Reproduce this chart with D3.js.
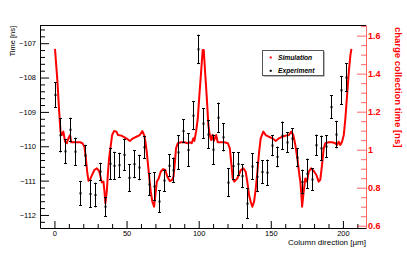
<!DOCTYPE html>
<html><head><meta charset="utf-8">
<script src="https://cdn.jsdelivr.net/npm/d3@7"></script>
<style>body{margin:0;background:#fff;} svg{display:block;}</style>
</head><body>
<svg id="c" width="407" height="254"></svg>
<script>
// Experiment: column position [µm], time [ns], error [ns]
const expX = [0.7,4.2,7.6,10.9,14.3,17.8,21.2,24.7,28.0,31.5,34.9,38.4,41.6,45.0,48.5,51.8,55.2,58.7,62.2,65.6,69.1,72.4,75.8,79.3,82.5,85.9,89.4,92.9,96.3,99.8,103.3,106.5,110.0,113.4,116.7,120.2,123.6,127.1,130.3,133.7,137.2,140.7,144.1,147.6,150.9,154.3,157.8,161.2,164.7,168.1,171.6,175.1,178.3,181.5,184.9,188.4,191.9,195.3,198.8,202.4];
const expY = [-108.51,-109.68,-110.15,-109.52,-110.16,-111.37,-110.27,-111.39,-111.42,-110.74,-111.76,-110.51,-110.57,-110.55,-110.25,-110.92,-110.52,-110.62,-110.03,-111.11,-111.17,-111.61,-111.00,-110.57,-110.70,-110.18,-109.56,-110.11,-109.11,-107.18,-109.34,-109.66,-110.10,-109.17,-109.74,-111.06,-110.58,-110.52,-110.87,-111.67,-110.59,-110.89,-110.75,-110.77,-109.98,-110.31,-109.69,-109.89,-109.78,-110.33,-111.04,-110.80,-110.97,-109.97,-110.06,-110.01,-108.86,-109.66,-108.37,-108.00];
const expErr = [0.37,0.50,0.36,0.35,0.41,0.36,0.31,0.41,0.36,0.26,0.29,0.47,0.41,0.36,0.47,0.40,0.41,0.37,0.33,0.33,0.41,0.33,0.32,0.33,0.37,0.50,0.35,0.49,0.42,0.43,0.44,0.41,0.44,0.44,0.41,0.42,0.40,0.35,0.35,0.45,0.39,0.44,0.35,0.38,0.31,0.30,0.41,0.30,0.30,0.28,0.36,0.44,0.33,0.31,0.37,0.33,0.34,0.40,0.42,0.42];

// Simulation: column position [µm], charge collection time [ns]
const simX = [0.4,2.1,3.3,4.2,5.1,6.2,7.4,8.6,9.7,10.9,11.6,13.2,15.5,17.8,19.4,20.8,21.8,22.7,23.6,24.9,26.3,27.7,29.4,31.0,32.2,32.8,34.0,34.7,35.3,36.3,37.0,37.9,38.8,40.0,41.4,43.0,44.1,46.4,49.9,52.3,54.5,56.8,59.2,61.0,62.2,63.1,64.0,64.9,65.8,66.8,67.9,69.1,70.0,71.0,72.3,73.7,75.3,76.9,78.3,80.0,81.6,82.6,83.6,84.3,85.5,87.8,90.1,92.4,94.0,95.2,96.3,97.0,98.2,99.4,100.5,101.7,102.8,103.5,104.6,105.8,106.7,107.7,108.6,109.5,110.5,112.1,113.2,115.5,117.8,120.2,121.6,122.5,123.6,124.7,126.8,129.2,131.0,132.6,133.7,134.9,136.1,137.2,138.4,139.6,140.7,141.9,143.0,144.8,146.5,148.8,151.1,153.4,155.7,158.0,160.4,162.6,164.2,165.6,167.0,168.4,169.8,170.5,171.2,171.7,172.8,173.9,175.1,176.3,177.9,179.8,181.6,183.2,184.3,185.5,186.7,187.8,190.2,192.5,194.7,195.9,197.1,198.2,199.4,200.6,201.7,202.9,204.1,205.2,205.9];
const simY = [1.530,1.358,1.200,1.095,1.077,1.095,1.042,1.034,1.060,1.077,1.039,1.039,1.039,1.039,1.034,1.016,0.955,0.884,0.837,0.846,0.871,0.893,0.902,0.888,0.849,0.828,0.832,0.779,0.718,0.779,0.867,0.955,1.007,1.077,1.098,1.095,1.077,1.074,1.060,1.046,1.060,1.068,1.077,1.098,1.077,1.042,0.989,0.919,0.849,0.779,0.726,0.700,0.762,0.832,0.849,0.884,0.898,0.893,0.858,0.835,0.841,0.860,0.940,1.007,1.034,1.039,1.039,1.034,1.039,1.034,1.060,1.046,1.095,1.165,1.288,1.411,1.525,1.525,1.393,1.253,1.130,1.077,1.051,1.077,1.046,1.077,1.039,1.039,1.039,1.034,1.007,0.937,0.849,0.832,0.849,0.893,0.902,0.884,0.832,0.762,0.726,0.700,0.726,0.797,0.884,0.989,1.060,1.095,1.077,1.068,1.060,1.046,1.060,1.068,1.074,1.077,1.095,1.077,1.025,0.955,0.867,0.832,0.762,0.700,0.779,0.849,0.832,0.884,0.902,0.888,0.867,0.832,0.841,0.919,1.007,1.034,1.039,1.039,1.034,1.025,1.042,1.025,1.042,1.077,1.165,1.288,1.411,1.498,1.530];

const xTicks = [0,50,100,150,200];
const yLeftTicks = [-112,-111,-110,-109,-108,-107];
const yRightTicks = [0.6,0.8,1,1.2,1.4,1.6];
const legendLabels = ["Simulation","Experiment"];
const xTitle = "Column direction [µm]";
const yLeftTitle = "Time [ns]";
const yRightTitle = "charge collection time [ns]";

const L = 40, R = 366, T = 25, B = 228;
const FONT = "'Liberation Sans', Arial, Helvetica, sans-serif";
const svg = d3.select("#c");

const x = d3.scaleLinear([-10, 216], [L, R]);
const yL = d3.scaleLinear([-112.38, -106.47], [B, T]);
const yR = d3.scaleLinear([0.588, 1.656], [B, T]);

function range(a, b, s) { const o = []; for (let v = a; v <= b + 1e-9; v += s) o.push(+v.toFixed(4)); return o; }

// bottom axis
const gx = svg.append("g").attr("transform", `translate(0,${B})`);
gx.call(d3.axisBottom(x).tickValues(xTicks).tickSizeInner(-7).tickSizeOuter(0).tickPadding(3).tickFormat(d3.format("d")));
const gxm = svg.append("g").attr("transform", `translate(0,${B})`);
gxm.call(d3.axisBottom(x).tickValues(range(-10, 210, 10).filter(v => v % 50 !== 0)).tickSizeInner(-4).tickSizeOuter(0).tickFormat(""));
gxm.select(".domain").remove();

// left axis
const gy = svg.append("g").attr("transform", `translate(${L},0)`);
gy.call(d3.axisLeft(yL).tickValues(yLeftTicks).tickSizeInner(-9).tickSizeOuter(0).tickPadding(4).tickFormat(d3.format("d")));
const gym = svg.append("g").attr("transform", `translate(${L},0)`);
gym.call(d3.axisLeft(yL).tickValues(range(-112.2, -106.6, 0.2).filter(v => Math.abs(v - Math.round(v)) > 0.01)).tickSizeInner(-5).tickSizeOuter(0).tickFormat(""));
gym.select(".domain").remove();

// top frame line
svg.append("line").attr("x1", L).attr("x2", R).attr("y1", T + 0.5).attr("y2", T + 0.5).attr("stroke", "#000");

[gx, gy].forEach(g => {
  g.selectAll("text").attr("font-family", FONT).attr("font-size", 7.5).attr("fill", "#000");
  g.selectAll("line,path").attr("stroke", "#000");
});
[gxm, gym].forEach(g => g.selectAll("line").attr("stroke", "#000"));

// right axis (red)
const gr = svg.append("g").attr("transform", `translate(${R},0)`);
gr.call(d3.axisRight(yR).tickValues(yRightTicks).tickSizeInner(-9).tickSizeOuter(0).tickPadding(2).tickFormat(d => d === 1 ? "1" : d.toFixed(1)));
const grm = svg.append("g").attr("transform", `translate(${R},0)`);
grm.call(d3.axisRight(yR).tickValues(range(0.6, 1.65, 0.05).filter(v => Math.abs(v * 5 - Math.round(v * 5)) > 0.01)).tickSizeInner(-5).tickSizeOuter(0).tickFormat(""));
grm.select(".domain").remove();
[gr, grm].forEach(g => g.selectAll("line,path").attr("stroke", "#f00").attr("stroke-opacity", 0.6));
gr.selectAll("text").attr("font-family", FONT).attr("font-size", 9).attr("font-weight", "bold").attr("fill", "#f00");

// simulation curve
svg.append("path")
  .datum(simX.map((v, i) => [v, simY[i]]))
  .attr("fill", "none").attr("stroke", "#f00").attr("stroke-width", 2).attr("stroke-linejoin", "round")
  .attr("d", d3.line().x(d => x(d[0])).y(d => yR(d[1])));

// experiment points with error bars
const eg = svg.append("g").attr("stroke", "#000").attr("stroke-width", 1);
expX.forEach((v, i) => {
  const cx = Math.round(x(v)) + 0.5;
  const y1 = yL(expY[i] + expErr[i]), y2 = yL(expY[i] - expErr[i]);
  eg.append("line").attr("x1", cx).attr("x2", cx).attr("y1", y1).attr("y2", y2);
  eg.append("line").attr("x1", cx - 1.5).attr("x2", cx + 1.5).attr("y1", Math.round(y1) + 0.5).attr("y2", Math.round(y1) + 0.5);
  eg.append("line").attr("x1", cx - 1.5).attr("x2", cx + 1.5).attr("y1", Math.round(y2) - 0.5).attr("y2", Math.round(y2) - 0.5);
  svg.append("rect").attr("x", cx - 1).attr("y", yL(expY[i]) - 1).attr("width", 2).attr("height", 2).attr("fill", "#000");
});

// legend
const lg = svg.append("g");
lg.append("rect").attr("x", 263.5).attr("y", 51.5).attr("width", 61).attr("height", 25).attr("fill", "#777");
lg.append("rect").attr("x", 262.5).attr("y", 50.5).attr("width", 61).attr("height", 25).attr("fill", "#fff").attr("stroke", "#555");
const legColors = ["#f00", "#000"];
legendLabels.forEach((t, i) => {
  const yy = 57.5 + i * 13.3;
  lg.append("rect").attr("x", 269.7).attr("y", yy - 1).attr("width", 2).attr("height", 2).attr("fill", legColors[i]);
  lg.append("text").attr("x", 278).attr("y", yy + 2.4).text(t)
    .attr("font-family", FONT).attr("font-size", 6.7).attr("font-weight", "bold").attr("font-style", "italic").attr("fill", "#000");
});

// titles
svg.append("text").attr("x", R).attr("y", 244.5).attr("text-anchor", "end").text(xTitle)
  .attr("font-family", FONT).attr("font-size", 8).attr("fill", "#000");
svg.append("text").attr("transform", `translate(15,26) rotate(-90)`).attr("text-anchor", "end").text(yLeftTitle)
  .attr("font-family", FONT).attr("font-size", 7.5).attr("fill", "#000");
svg.append("text").attr("transform", `translate(394.5,27) rotate(90)`).attr("text-anchor", "start").text(yRightTitle)
  .attr("font-family", FONT).attr("font-size", 9.5).attr("font-weight", "bold").attr("fill", "#f00");
</script>
</body></html>
